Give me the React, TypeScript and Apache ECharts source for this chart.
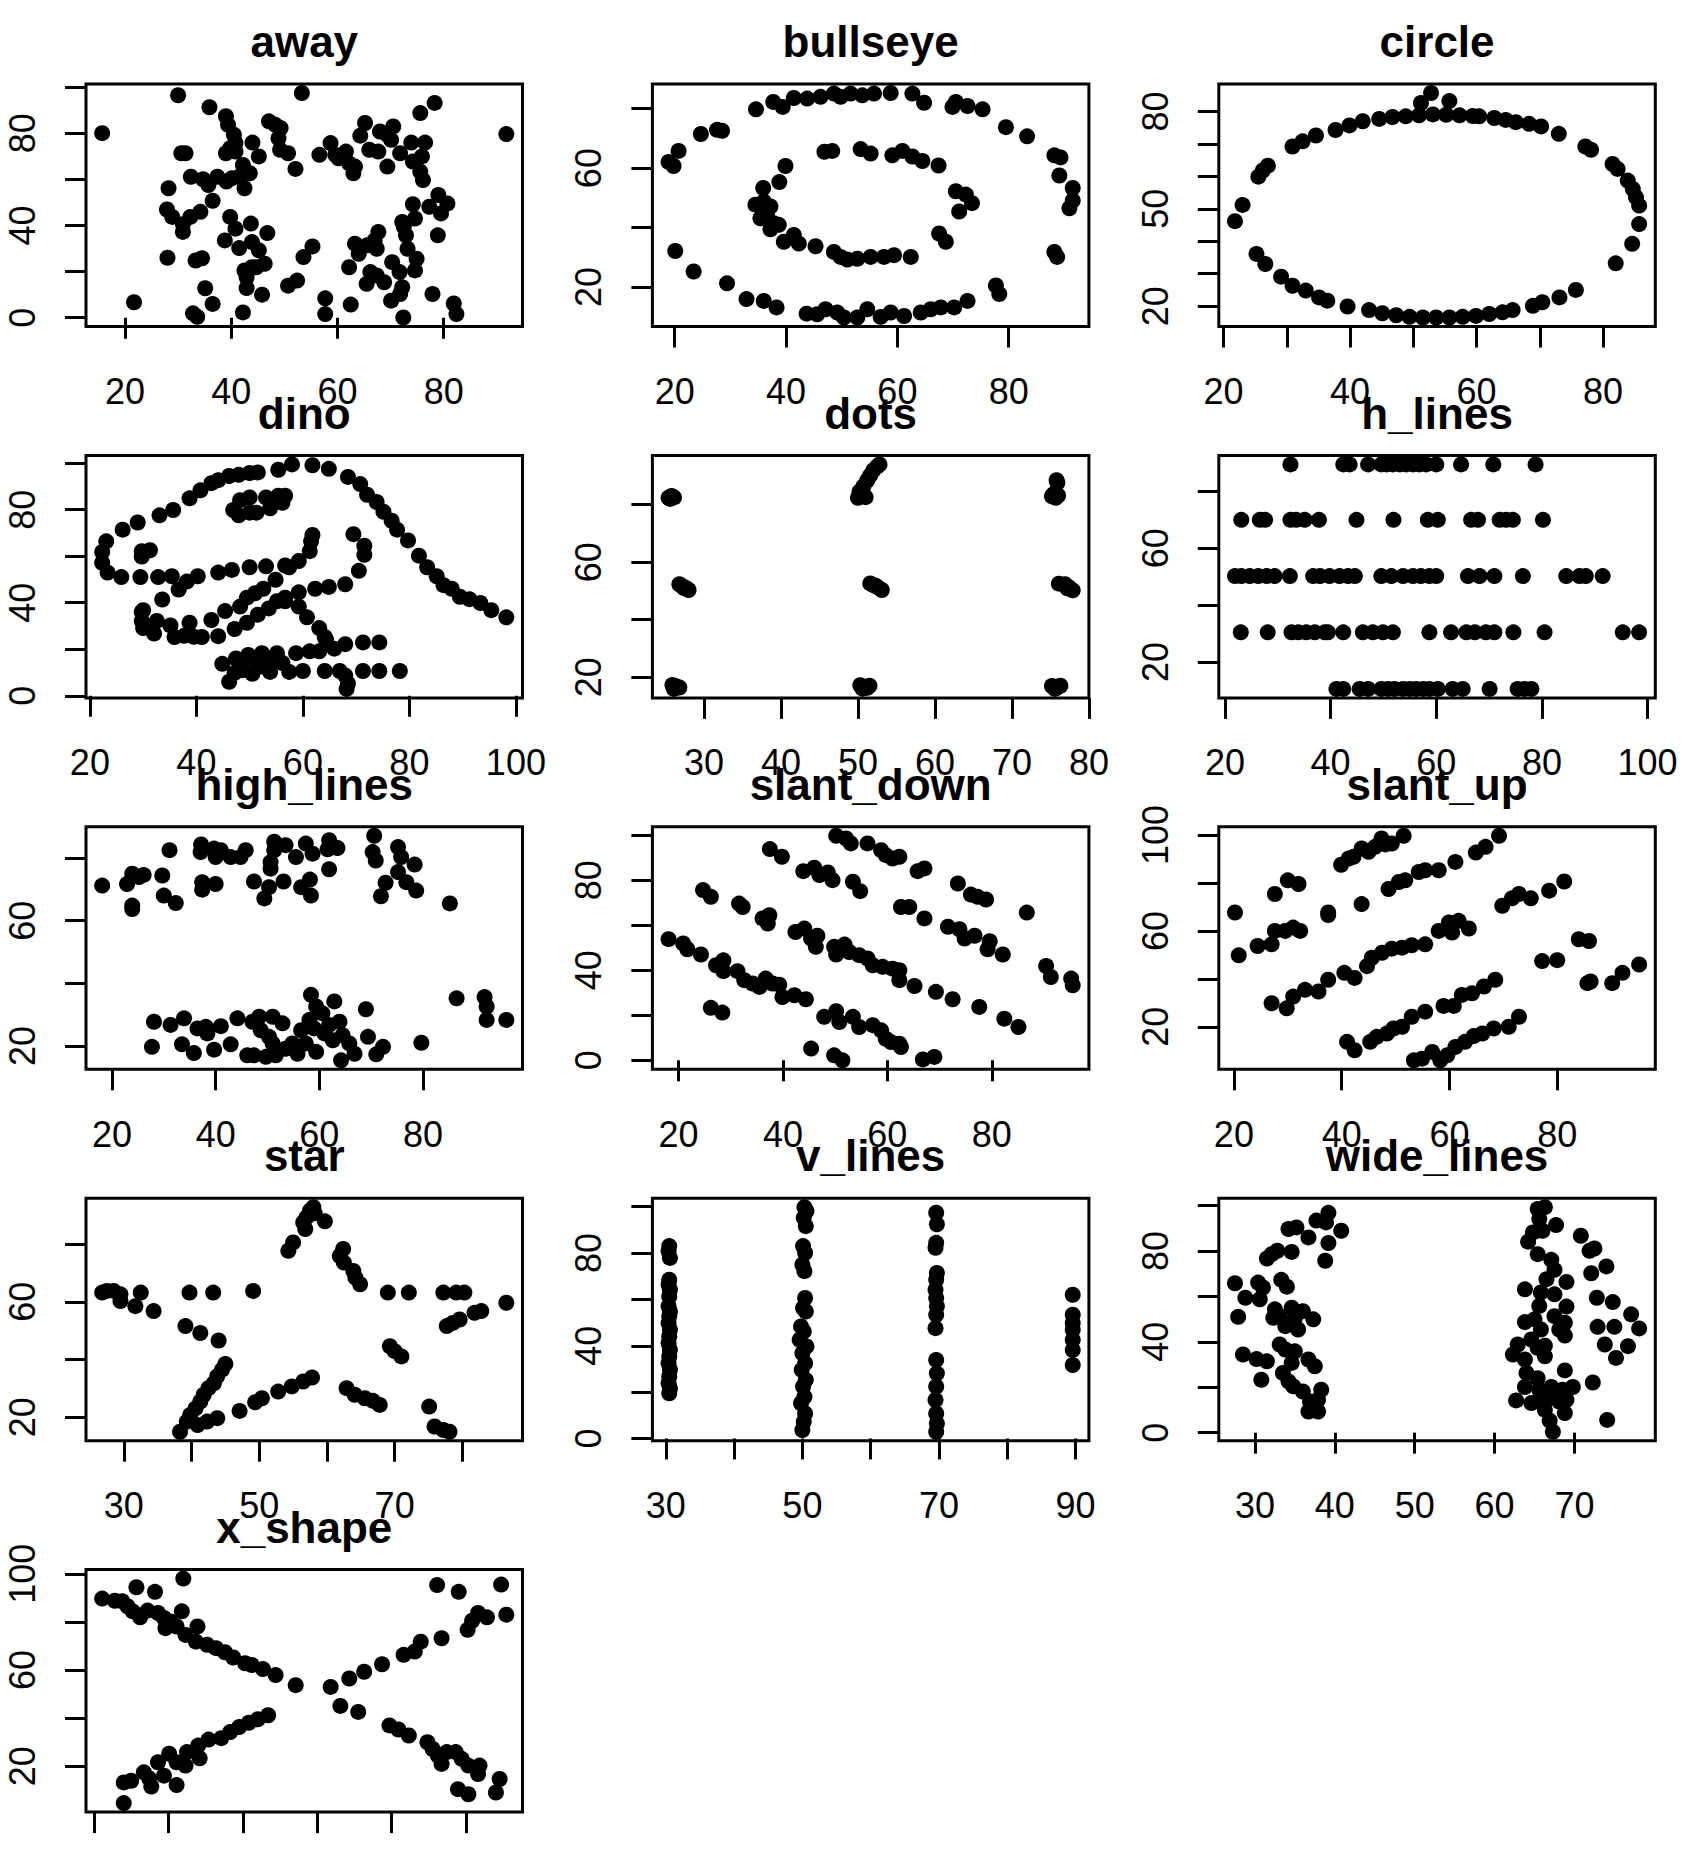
import React, { useEffect, useRef } from 'react';
import * as echarts from 'echarts';

const away = [[15.7,80.0],[30.0,96.4],[53.3,97.4],[78.3,93.1],[91.8,79.6],[35.9,91.2],[39.0,87.3],[39.4,83.6],[47.1,85.1],[48.3,83.6],[49.3,82.2],[40.5,79.3],[40.8,75.7],[39.8,73.5],[39.0,71.3],[40.8,72.0],[44.0,75.9],[45.2,69.9],[48.9,77.8],[49.2,72.8],[50.7,71.3],[52.1,64.5],[31.4,71.3],[30.6,71.3],[32.4,61.1],[34.7,60.0],[35.7,57.5],[37.4,61.1],[39.1,59.0],[40.1,60.4],[41.5,61.1],[42.2,66.2],[43.5,62.6],[42.5,56.1],[28.2,56.1],[27.9,46.9],[28.9,43.7],[30.9,40.5],[30.9,37.2],[32.3,43.7],[34.2,45.9],[36.5,50.7],[39.8,43.7],[40.8,38.6],[43.7,40.8],[46.8,36.7],[38.8,33.5],[41.5,30.2],[43.9,32.8],[45.2,29.2],[28.0,26.0],[33.3,24.8],[34.5,25.8],[42.5,20.5],[43.9,21.9],[46.3,23.4],[44.7,21.9],[42.9,17.6],[42.9,12.9],[35.1,12.8],[45.8,10.0],[36.5,6.0],[21.7,6.7],[32.8,1.9],[33.6,0.4],[42.2,2.3],[50.7,13.9],[52.4,16.1],[53.6,26.3],[55.3,30.9],[56.6,70.6],[58.7,75.7],[59.6,70.6],[60.2,69.1],[61.6,72.0],[62.2,66.9],[63.3,65.5],[63.0,62.6],[65.2,84.4],[64.3,78.9],[66.0,72.8],[67.7,72.0],[68.0,80.7],[69.4,79.3],[70.5,82.9],[70.1,77.1],[69.4,65.5],[71.8,71.3],[73.9,75.9],[75.6,88.7],[76.5,75.9],[74.2,67.7],[75.9,69.9],[75.6,63.3],[76.1,59.7],[74.2,49.2],[74.6,43.0],[72.2,41.5],[72.5,39.4],[77.3,48.1],[79.0,53.2],[80.7,49.5],[79.5,45.2],[78.9,35.7],[67.7,37.2],[67.0,33.5],[67.4,29.9],[63.3,32.1],[64.0,27.7],[62.2,21.9],[65.6,31.4],[73.2,29.9],[74.9,25.6],[74.6,20.5],[70.3,24.1],[71.7,19.8],[66.2,19.8],[65.5,14.7],[67.4,18.3],[68.8,15.4],[72.2,13.2],[71.8,10.3],[70.1,7.4],[77.9,10.3],[72.4,0.1],[81.9,6.2],[82.4,1.6],[57.7,8.4],[57.7,1.6],[62.5,5.7],[72.9,35.7]];

const bullseye = [[18.9,62.1],[19.8,60.7],[20.7,65.8],[20.1,32.1],[23.4,25.2],[24.7,71.5],[27.6,72.9],[28.5,72.6],[29.4,21.2],[32.9,15.9],[36.0,15.3],[38.3,13.1],[34.6,79.8],[37.7,82.3],[39.4,80.6],[41.4,83.6],[43.8,83.4],[46.2,84.0],[48.6,85.1],[49.8,84.0],[51.6,85.1],[53.7,84.5],[55.8,85.1],[58.8,85.3],[62.7,85.1],[64.8,82.0],[69.9,80.6],[70.5,82.3],[72.6,80.9],[75.3,79.8],[79.5,73.8],[83.3,70.7],[88.2,64.3],[89.3,63.6],[89.1,57.5],[91.5,53.3],[91.5,49.1],[90.9,46.5],[88.2,31.8],[88.7,30.1],[77.7,20.5],[78.3,17.6],[72.6,15.3],[70.2,13.1],[67.8,13.1],[66.0,12.5],[64.2,11.4],[61.2,10.2],[58.8,11.4],[57.0,9.9],[54.6,12.5],[52.8,9.7],[50.4,9.7],[49.2,11.4],[47.1,12.5],[45.6,10.8],[43.7,11.0],[39.9,60.7],[38.8,55.3],[35.9,53.3],[34.5,47.7],[36.0,48.8],[37.2,47.1],[35.4,43.1],[36.6,44.8],[37.8,41.4],[38.7,40.9],[37.2,39.4],[39.6,35.2],[41.4,37.5],[42.3,34.6],[45.3,33.7],[46.9,65.5],[48.3,65.8],[53.4,66.4],[55.2,64.9],[59.1,64.3],[60.9,65.8],[62.7,63.9],[64.5,62.4],[67.4,60.9],[70.5,52.2],[72.3,51.1],[73.4,48.2],[71.1,45.4],[67.5,38.0],[68.7,35.2],[48.6,31.8],[49.8,30.1],[51.0,29.2],[52.8,29.5],[55.2,30.1],[57.6,30.1],[59.4,30.7],[62.4,30.1]];

const circle = [[52.8,85.7],[51.2,82.6],[55.7,83.2],[37.7,74.3],[39.9,75.7],[42.0,77.0],[44.6,77.7],[46.7,78.3],[48.8,78.5],[50.9,78.8],[53.1,79.1],[55.2,79.0],[57.3,78.8],[59.4,78.6],[60.4,78.5],[62.8,78.0],[64.6,77.4],[66.2,76.7],[68.3,76.2],[70.2,75.4],[73.0,73.1],[77.2,69.2],[78.1,68.2],[81.5,63.8],[82.3,62.3],[83.9,58.7],[84.7,56.1],[85.2,53.6],[85.7,51.0],[85.7,45.3],[84.6,39.2],[82.0,33.2],[30.9,69.2],[32.5,70.8],[34.6,72.6],[25.5,59.9],[26.2,61.8],[27.0,63.3],[23.0,51.2],[21.8,46.2],[25.2,36.1],[26.6,33.0],[29.1,29.1],[30.9,26.3],[33.0,24.8],[35.1,22.7],[36.4,21.7],[39.6,19.9],[43.0,18.8],[45.1,17.8],[47.3,17.2],[49.4,16.7],[51.5,16.5],[53.6,16.5],[55.7,16.5],[57.8,16.7],[59.9,17.0],[62.0,17.6],[64.1,18.1],[65.7,18.8],[68.9,20.1],[70.4,21.2],[73.1,22.7],[75.7,25.0]];

const dino = [[55.3846,97.1795],[51.5385,96.0256],[46.1538,94.4872],[42.8205,91.4103],[40.7692,88.3333],[38.7179,84.8718],[35.641,79.8718],[33.0769,77.5641],[28.9744,74.4872],[26.1538,71.4103],[23.0769,66.4103],[22.3077,61.7949],[22.3077,57.1795],[23.3333,52.9487],[25.8974,51.0256],[29.4872,51.0256],[32.8205,51.0256],[35.3846,51.4103],[40.2564,51.4103],[44.1026,52.9487],[46.6667,54.1026],[50,55.2564],[53.0769,55.641],[56.6667,56.0256],[59.2308,57.9487],[61.2821,62.1795],[61.5385,66.4103],[61.7949,69.1026],[57.4359,55.2564],[54.8718,49.8718],[52.5641,46.0256],[48.2051,38.3333],[49.4872,42.1795],[51.0256,44.1026],[45.3846,36.4103],[42.8205,32.5641],[38.7179,31.4103],[35.1282,30.2564],[32.5641,32.1795],[30,36.7949],[33.5897,41.4103],[36.6667,45.641],[38.2051,49.1026],[29.7436,36.0256],[29.7436,32.1795],[30,29.1026],[32.0513,26.7949],[35.8974,25.2564],[41.0256,25.2564],[44.1026,25.641],[47.1795,28.718],[49.4872,31.4103],[51.5385,34.8718],[53.5897,37.5641],[55.1282,40.641],[56.6667,42.1795],[59.2308,44.4872],[62.3077,46.0256],[64.8718,46.7949],[67.9487,47.9487],[70.5128,53.718],[71.5385,60.641],[71.5385,64.4872],[69.4872,69.4872],[46.9231,79.8718],[48.2051,84.1026],[50,85.2564],[53.0769,85.2564],[55.3846,86.0256],[56.6667,86.0256],[56.1538,82.9487],[53.8462,80.641],[51.2821,78.718],[50,78.718],[47.9487,77.5641],[29.7436,59.8718],[29.7436,62.1795],[31.2821,62.5641],[57.9487,99.4872],[61.7949,99.1026],[64.8718,97.5641],[68.4615,94.1026],[70.7692,91.0256],[72.0513,86.4103],[73.8462,83.3333],[75.1282,79.1026],[76.6667,75.2564],[77.6923,71.4103],[79.7436,66.7949],[81.7949,60.2564],[83.3333,55.2564],[85.1282,51.4103],[86.4103,47.5641],[87.9487,46.0256],[89.4872,42.5641],[93.3333,39.8718],[95.3846,36.7949],[98.2051,33.718],[56.6667,40.641],[59.2308,38.3333],[60.7692,33.718],[63.0769,29.1026],[64.1026,25.2564],[64.359,24.1026],[74.359,22.9487],[71.2821,22.9487],[67.9487,22.1795],[65.8974,20.2564],[63.0769,19.1026],[61.2821,19.1026],[58.7179,18.3333],[55.1282,18.3333],[52.3077,18.3333],[49.7436,17.5641],[47.4359,16.0256],[44.8718,13.718],[48.7179,14.8718],[51.2821,14.8718],[54.1026,14.8718],[56.1538,14.1026],[52.0513,12.5641],[48.7179,11.0256],[47.1795,9.8718],[46.1538,6.0256],[50.5128,9.4872],[53.8462,10.2564],[57.4359,10.2564],[60,10.641],[64.1026,10.641],[66.9231,10.641],[71.2821,10.641],[74.359,10.641],[78.2051,10.641],[67.9487,8.718],[68.4615,5.2564],[68.2051,2.9487],[37.6923,25.7692],[39.4872,25.3846],[91.2821,41.5385],[50,95.7692],[47.9487,95],[44.1026,92.6923]];

const dots = [[25.4,82.4],[25.8,83.0],[26.1,82.5],[25.6,82.0],[26.8,52.3],[27.2,51.6],[27.7,50.9],[28.0,50.3],[27.4,51.0],[25.9,17.3],[26.4,16.8],[26.8,16.4],[26.1,15.9],[50.0,82.4],[50.4,82.9],[51.0,82.6],[50.2,84.5],[50.7,86.3],[51.2,88.4],[51.6,90.2],[52.0,92.0],[52.5,93.3],[52.8,94.0],[51.6,52.6],[52.0,52.0],[52.6,51.2],[53.1,50.3],[52.3,51.8],[50.3,17.2],[50.8,16.6],[51.5,17.0],[50.6,16.0],[51.2,16.3],[75.8,88.5],[75.9,87.6],[75.2,82.9],[75.7,82.4],[76.0,83.2],[75.4,83.6],[76.1,52.5],[76.9,52.3],[77.4,51.3],[77.9,50.2],[77.2,50.9],[75.2,16.9],[75.8,16.4],[76.3,17.0],[75.6,15.9]];

const hLines = [[32.4,89.5],[42.4,89.5],[43.6,89.5],[47.1,89.5],[49.6,89.5],[50.6,89.5],[51.8,89.5],[53.1,89.5],[54.3,89.5],[55.6,89.5],[56.8,89.5],[58.1,89.5],[60.0,89.5],[64.7,89.5],[70.8,89.5],[78.8,89.5],[23.1,70.0],[26.6,70.0],[27.6,70.0],[32.4,70.0],[33.5,70.0],[35.1,70.0],[37.8,70.0],[44.9,70.0],[51.9,70.0],[58.4,70.0],[60.3,70.0],[66.6,70.0],[67.9,70.0],[72.0,70.0],[73.2,70.0],[74.5,70.0],[80.2,70.0],[21.9,50.2],[23.1,50.2],[24.7,50.2],[26.3,50.2],[27.9,50.2],[29.4,50.2],[32.3,50.2],[36.7,50.2],[38.0,50.2],[39.8,50.2],[41.7,50.2],[43.3,50.2],[44.6,50.2],[49.6,50.2],[51.5,50.2],[53.7,50.2],[55.6,50.2],[57.1,50.2],[58.7,50.2],[60.0,50.2],[66.0,50.2],[68.2,50.2],[71.0,50.2],[76.4,50.2],[84.6,50.2],[87.1,50.2],[88.3,50.2],[91.5,50.2],[23.0,30.4],[28.1,30.4],[32.6,30.4],[33.9,30.4],[35.4,30.4],[37.0,30.4],[38.9,30.4],[39.5,30.4],[42.4,30.4],[46.1,30.4],[48.0,30.4],[49.9,30.4],[51.8,30.4],[58.7,30.4],[62.8,30.4],[65.7,30.4],[67.3,30.4],[69.4,30.4],[71.0,30.4],[74.6,30.4],[80.5,30.4],[95.3,30.4],[98.4,30.4],[41.1,10.5],[42.4,10.5],[45.5,10.5],[47.1,10.5],[49.6,10.5],[50.9,10.5],[52.1,10.5],[53.7,10.5],[55.0,10.5],[56.2,10.5],[57.5,10.5],[58.7,10.5],[60.3,10.5],[63.1,10.5],[65.0,10.5],[70.1,10.5],[75.4,10.5],[76.7,10.5],[78.0,10.5]];

const highLines = [[18.1,71.2],[22.9,71.7],[23.9,75.0],[25.2,73.9],[26.1,74.6],[23.9,63.7],[23.9,64.8],[29.7,74.4],[30.0,68.0],[32.3,65.6],[31.1,82.5],[37.2,84.3],[37.1,81.9],[39.7,83.0],[41.0,82.5],[40.0,80.3],[42.9,80.3],[44.8,80.3],[45.8,82.5],[37.4,72.3],[37.4,69.9],[40.0,71.7],[47.4,72.5],[49.4,67.1],[50.3,70.7],[51.3,85.2],[51.3,82.5],[53.5,84.1],[50.6,78.7],[50.6,76.6],[53.1,72.5],[55.5,80.3],[57.4,84.6],[58.7,81.4],[56.5,70.7],[58.2,73.1],[58.4,68.0],[61.9,85.7],[63.5,83.2],[61.6,82.8],[61.9,76.4],[70.6,87.1],[70.3,81.9],[70.9,79.2],[72.8,72.1],[71.9,67.8],[75.2,83.5],[75.8,80.3],[75.2,75.5],[76.8,72.3],[78.4,77.9],[78.7,69.6],[85.2,65.5],[28.1,27.7],[27.7,19.7],[31.3,26.7],[33.9,28.8],[33.5,20.5],[35.8,17.7],[36.5,25.6],[38.1,26.1],[38.4,24.0],[39.7,18.8],[41.0,26.3],[42.9,20.5],[44.2,28.8],[46.1,17.0],[47.4,17.0],[47.1,27.7],[48.4,29.3],[48.7,25.0],[49.7,16.5],[51.0,29.3],[50.3,22.9],[51.0,20.8],[51.6,17.0],[52.9,27.2],[53.5,19.1],[54.8,20.8],[55.8,17.5],[56.5,25.0],[57.4,20.8],[58.1,28.3],[58.4,36.3],[59.4,32.6],[59.0,25.6],[59.4,18.1],[60.6,30.4],[61.0,24.0],[62.9,34.2],[61.9,26.7],[62.6,21.8],[63.9,27.7],[64.5,23.4],[64.2,15.4],[65.8,20.8],[66.8,17.5],[69.0,31.7],[69.4,22.9],[71.0,17.3],[72.3,19.7],[79.7,21.0],[86.5,35.2],[91.9,35.6],[92.3,32.6],[92.3,28.3],[96.1,28.3]];

const slantDown = [[50.2,99.7],[52.1,98.5],[53.0,96.3],[56.2,96.3],[58.8,93.3],[59.7,91.1],[61.0,89.6],[62.3,90.4],[65.8,84.0],[67.1,85.2],[73.5,78.5],[76.0,73.6],[77.3,72.6],[78.9,71.4],[86.7,65.6],[37.5,93.8],[39.8,90.4],[43.9,84.0],[46.0,85.5],[47.0,82.2],[48.6,83.4],[49.5,80.0],[53.4,79.3],[54.8,75.1],[62.6,68.1],[64.2,68.1],[67.1,63.0],[71.6,59.3],[73.8,58.2],[74.8,54.1],[76.7,55.3],[79.6,52.9],[79.2,49.3],[82.1,47.0],[90.4,41.9],[91.3,37.0],[95.2,36.3],[95.5,33.3],[24.7,75.6],[26.2,72.6],[31.6,69.6],[32.3,68.1],[36.1,63.0],[37.4,64.4],[37.1,60.7],[42.4,57.0],[44.1,58.5],[45.4,54.1],[46.6,55.3],[46.3,50.4],[49.8,50.4],[51.8,51.4],[50.2,47.0],[52.7,48.1],[54.6,46.7],[56.2,45.2],[57.2,42.2],[59.1,41.5],[61.0,40.7],[62.3,40.0],[62.3,35.6],[65.2,33.0],[69.3,30.4],[72.5,27.1],[77.6,23.7],[82.4,18.5],[85.1,14.8],[18.1,53.8],[20.9,51.9],[21.7,49.3],[24.3,47.0],[27.2,42.2],[28.6,44.4],[28.6,39.6],[31.3,39.6],[32.6,35.6],[34.2,34.1],[35.5,32.6],[36.7,36.3],[38.0,34.1],[39.3,33.6],[39.9,28.1],[42.2,28.9],[44.4,27.1],[26.2,23.3],[28.4,21.2],[47.9,19.3],[50.2,21.8],[50.8,17.0],[53.4,19.3],[54.6,14.8],[57.2,15.6],[58.8,13.3],[59.7,9.6],[60.7,8.1],[62.3,7.4],[62.6,5.9],[45.4,5.2],[49.8,2.2],[51.4,0.0],[66.8,0.4],[69.0,1.5]];

const slantUp = [[39.9,87.6],[41.3,90.2],[42.2,90.9],[43.7,94.4],[45.0,93.0],[46.2,95.1],[47.4,98.6],[48.1,96.1],[49.3,96.5],[51.5,99.7],[20.2,67.7],[20.9,49.8],[24.4,53.7],[27.0,54.4],[27.6,60.0],[27.6,75.4],[29.5,60.0],[30.0,81.1],[32.0,79.6],[31.0,61.4],[32.3,60.0],[37.5,67.7],[37.5,66.6],[43.7,71.2],[48.7,77.5],[50.6,80.4],[51.8,81.1],[54.3,84.6],[55.5,85.3],[58.0,85.3],[61.1,88.8],[64.9,92.7],[66.7,95.1],[69.2,99.7],[27.0,29.8],[29.8,27.7],[31.0,32.6],[33.2,35.4],[35.7,34.7],[37.5,39.6],[40.5,42.5],[42.4,40.4],[44.7,45.3],[45.6,48.8],[47.5,50.9],[49.3,52.6],[51.2,53.0],[53.0,54.0],[55.5,54.4],[58.0,60.0],[59.9,63.5],[60.5,59.3],[61.7,64.2],[63.6,61.0],[69.8,70.5],[71.6,73.6],[72.9,75.4],[75.1,73.6],[78.5,76.8],[81.3,80.6],[41.0,13.7],[42.4,10.2],[45.3,13.7],[46.5,15.8],[48.4,17.2],[49.6,19.3],[51.2,20.0],[53.0,24.2],[55.5,26.3],[58.9,28.7],[60.8,28.7],[62.3,33.3],[64.2,34.0],[66.4,36.8],[68.5,39.6],[77.2,47.4],[80.0,47.8],[84.0,56.5],[85.9,55.8],[85.6,38.2],[86.2,38.9],[90.2,38.2],[92.1,42.5],[95.2,46.0],[53.4,6.0],[54.9,6.7],[56.8,9.5],[58.3,6.0],[59.6,8.1],[61.1,11.6],[62.9,13.7],[64.5,16.1],[66.1,17.2],[68.2,19.3],[71.0,20.0],[72.9,24.2]];

const star = [[58.0,92.8],[57.5,91.6],[58.2,90.7],[57.0,89.3],[56.5,87.5],[59.7,87.9],[56.8,85.2],[55.0,80.6],[54.3,77.7],[62.4,78.3],[61.9,75.9],[62.5,73.6],[63.9,70.7],[64.2,68.4],[64.9,66.1],[26.8,63.2],[27.5,63.8],[28.5,63.8],[29.5,62.6],[29.5,60.3],[31.7,58.5],[32.5,63.2],[34.4,56.8],[39.7,63.2],[43.2,63.2],[49.1,63.8],[39.1,51.6],[41.3,49.2],[44.0,46.6],[69.0,63.2],[72.1,63.2],[77.2,63.2],[79.1,63.2],[80.3,63.2],[86.5,59.7],[81.8,56.2],[82.8,56.8],[79.6,53.9],[78.6,52.7],[77.7,51.6],[69.3,44.6],[70.0,42.9],[71.0,41.1],[45.0,38.5],[44.5,36.5],[43.8,34.2],[43.3,31.8],[42.5,30.1],[41.8,27.8],[41.3,25.5],[40.6,23.1],[39.8,20.8],[39.3,18.5],[38.3,15.0],[40.9,17.3],[42.3,18.5],[43.8,19.7],[47.1,22.2],[49.4,25.2],[50.4,26.6],[52.8,28.9],[54.8,30.7],[56.5,32.4],[57.8,33.8],[62.9,30.1],[64.1,27.8],[65.6,26.6],[66.8,25.7],[67.8,24.3],[75.1,23.7],[75.9,16.8],[77.2,15.6],[78.1,15.0]];

const vLines = [[30.5,83.0],[30.4,80.8],[30.6,77.9],[30.5,68.5],[30.4,66.4],[30.6,64.2],[30.5,61.3],[30.4,57.0],[30.6,54.8],[30.5,52.7],[30.4,49.8],[30.6,46.9],[30.5,44.0],[30.4,41.1],[30.6,38.2],[30.5,35.4],[30.4,32.5],[30.6,29.6],[30.5,26.7],[30.4,23.8],[30.6,21.6],[30.5,19.5],[50.3,99.8],[50.6,98.1],[50.2,95.2],[50.5,91.6],[50.1,83.0],[50.4,80.1],[50.0,75.0],[50.3,72.2],[50.4,60.6],[50.1,56.3],[50.5,54.8],[49.8,48.3],[50.2,46.2],[49.6,42.6],[50.6,39.7],[50.0,36.8],[50.4,32.5],[49.9,29.6],[50.5,25.3],[50.1,22.4],[50.3,18.0],[49.8,15.2],[50.4,10.8],[50.2,7.2],[50.0,3.6],[69.6,97.4],[69.7,92.4],[69.6,84.4],[69.5,82.3],[69.7,71.4],[69.6,68.5],[69.5,64.2],[69.6,60.6],[69.7,57.0],[69.6,53.4],[69.5,47.6],[69.6,33.9],[69.7,28.1],[69.6,22.4],[69.5,16.6],[69.6,10.8],[69.7,6.5],[69.6,2.9],[89.6,62.0],[89.6,53.4],[89.6,49.8],[89.6,46.9],[89.6,42.6],[89.6,38.2],[89.6,31.7]];

const wideLines = [[27.5,65.8],[27.9,51.0],[28.8,59.4],[28.5,34.4],[30.4,66.1],[31.0,63.9],[30.6,58.7],[30.2,32.4],[31.5,31.4],[30.8,23.3],[31.5,76.7],[32.1,78.6],[32.8,80.1],[33.3,67.3],[34.0,64.3],[34.6,79.6],[32.5,54.3],[32.3,50.6],[33.1,51.3],[33.8,46.9],[34.6,55.0],[35.0,50.6],[36.0,53.5],[35.4,45.4],[37.3,49.9],[33.1,38.8],[33.8,36.6],[35.0,35.8],[34.6,30.7],[33.5,26.3],[34.2,22.6],[34.8,20.4],[36.7,32.2],[37.5,29.2],[36.0,18.1],[36.9,13.7],[36.7,9.3],[37.9,9.3],[38.3,18.9],[37.9,14.5],[34.2,89.7],[35.2,90.4],[36.7,86.0],[37.7,93.4],[39.2,96.8],[38.9,92.6],[40.8,88.9],[39.2,83.5],[38.8,75.7],[65.4,98.5],[66.3,99.3],[65.6,94.1],[67.7,91.4],[66.0,88.9],[64.8,88.2],[64.2,84.1],[65.4,78.6],[67.1,76.1],[67.5,71.7],[66.5,67.6],[69.0,66.4],[63.8,63.1],[65.8,61.7],[67.5,60.9],[65.6,55.8],[69.0,55.5],[63.8,48.7],[65.0,49.9],[67.5,51.3],[68.8,48.4],[65.8,45.4],[68.1,45.4],[68.8,42.8],[62.9,38.8],[62.3,34.4],[64.6,41.0],[66.3,38.3],[63.8,32.2],[65.4,37.3],[66.3,33.6],[64.0,26.3],[65.4,24.0],[68.8,27.4],[63.8,20.1],[65.6,18.9],[67.1,20.1],[68.5,18.9],[69.8,20.1],[62.7,14.2],[64.6,13.0],[65.6,14.5],[66.9,15.2],[68.1,13.7],[69.0,14.5],[66.3,10.0],[68.8,8.6],[66.9,5.3],[67.3,0.4],[70.8,86.7],[71.9,80.1],[72.5,81.1],[74.0,73.2],[72.1,70.2],[72.8,59.4],[74.8,57.5],[72.9,46.6],[75.0,46.6],[77.1,52.1],[78.1,45.9],[73.8,38.8],[75.2,32.9],[76.7,38.1],[72.3,22.1],[74.1,5.6]];

const xShape = [[31.1,89.7],[32.8,88.8],[33.8,88.6],[34.5,86.5],[35.2,84.4],[36.2,81.9],[37.2,84.7],[38.6,83.7],[39.4,81.6],[39.6,77.4],[40.3,80.2],[41.1,78.1],[41.8,84.4],[42.3,74.6],[43.9,78.1],[43.7,71.8],[45.2,70.5],[46.4,69.1],[47.6,67.4],[48.7,65.2],[50.3,62.8],[51.2,62.1],[52.7,60.4],[54.4,57.9],[57.1,53.7],[35.7,94.4],[38.2,92.5],[42.0,98.0],[34.0,4.7],[34.0,13.3],[35.0,14.0],[36.7,17.5],[37.7,11.6],[37.4,15.0],[38.6,21.7],[39.4,16.1],[40.1,25.2],[41.1,12.2],[41.1,21.7],[42.3,20.3],[42.5,25.9],[44.2,23.3],[44.0,28.6],[45.4,31.1],[47.1,31.7],[48.3,34.2],[49.5,36.3],[50.8,38.1],[52.0,39.5],[53.4,41.2],[61.8,53.0],[64.3,56.5],[66.3,59.3],[68.7,62.4],[71.6,66.3],[73.1,67.7],[73.9,71.8],[76.7,73.2],[80.2,76.7],[80.8,80.5],[81.6,83.7],[82.8,81.9],[85.4,83.0],[76.1,95.3],[79.0,92.5],[84.7,95.5],[63.1,45.1],[65.5,42.6],[69.7,37.0],[70.9,35.3],[72.3,32.8],[74.8,30.0],[75.5,27.2],[76.2,24.5],[76.7,21.0],[77.4,25.9],[78.6,25.9],[79.4,23.1],[80.3,20.3],[81.8,20.3],[81.6,16.8],[78.9,10.5],[80.3,8.4],[84.0,9.1],[84.5,14.7]];

const panelNames = ['away', 'bullseye', 'circle', 'dino', 'dots', 'h_lines', 'high_lines', 'slant_down', 'slant_up', 'star', 'v_lines', 'wide_lines', 'x_shape'];
const panelData = [away, bullseye, circle, dino, dots, hLines, highLines, slantDown, slantUp, star, vLines, wideLines, xShape];

const xTickValues = [
  [20, 40, 60, 80], [20, 40, 60, 80], [20, 30, 40, 50, 60, 70, 80],
  [20, 40, 60, 80, 100], [30, 40, 50, 60, 70, 80], [20, 40, 60, 80, 100],
  [20, 40, 60, 80], [20, 40, 60, 80], [20, 40, 60, 80],
  [30, 40, 50, 60, 70, 80], [30, 40, 50, 60, 70, 80, 90], [30, 40, 50, 60, 70],
  [30, 40, 50, 60, 70, 80],
];
// the bottom row's tick labels fall below the page edge in the reference
const xLabelValues = [
  [20, 40, 60, 80], [20, 40, 60, 80], [20, 40, 60, 80],
  [20, 40, 60, 80, 100], [30, 40, 50, 60, 70, 80], [20, 40, 60, 80, 100],
  [20, 40, 60, 80], [20, 40, 60, 80], [20, 40, 60, 80],
  [30, 50, 70], [30, 50, 70, 90], [30, 40, 50, 60, 70],
  [],
];
const yTickValues = [
  [0, 20, 40, 60, 80, 100], [20, 40, 60, 80], [20, 30, 40, 50, 60, 70, 80],
  [0, 20, 40, 60, 80, 100], [20, 40, 60, 80], [20, 40, 60, 80],
  [20, 40, 60, 80], [0, 20, 40, 60, 80, 100], [20, 40, 60, 80, 100],
  [20, 40, 60, 80], [0, 20, 40, 60, 80, 100], [0, 20, 40, 60, 80, 100],
  [20, 40, 60, 80, 100],
];
const yLabelValues = [
  [0, 40, 80], [20, 60], [20, 50, 80],
  [0, 40, 80], [20, 60], [20, 60],
  [20, 60], [0, 40, 80], [20, 60, 100],
  [20, 60], [0, 40, 80], [0, 40, 80],
  [20, 60, 100],
];

function extent(pts: number[][], k: number): [number, number] {
  const v = pts.map((p) => p[k]);
  const lo = Math.min(...v);
  const hi = Math.max(...v);
  const pad = (hi - lo) * 0.04;
  return [lo - pad, hi + pad];
}

const FONT = '"Liberation Sans", Arial, Helvetica, sans-serif';

export default function App() {
  const ref = useRef<HTMLDivElement>(null);
  useEffect(() => {
    const chart = echarts.init(ref.current as HTMLDivElement, null, { renderer: 'svg' });
    const grids: any[] = [];
    const xAxes: any[] = [];
    const yAxes: any[] = [];
    const series: any[] = [];
    const graphics: any[] = [];
    panelData.forEach((pts, i) => {
      const col = i % 3;
      const row = Math.floor(i / 3);
      const left = 86 + col * 566.4;
      const top = 84 + row * 371.4;
      const width = 436.5;
      const height = 242.5;
      grids.push({ left, top, width, height, show: true, borderColor: '#000', borderWidth: 3, backgroundColor: 'rgba(0,0,0,0)', containLabel: false });
      const [x0, x1] = extent(pts, 0);
      const [y0, y1] = extent(pts, 1);
      xAxes.push({
        gridIndex: i, type: 'value', min: x0, max: x1,
        axisLine: { show: false }, splitLine: { show: false },
        axisTick: { show: true, length: 21, lineStyle: { color: '#000', width: 3 }, customValues: xTickValues[i] },
        axisLabel: { show: xLabelValues[i].length > 0, customValues: xLabelValues[i], margin: 65, fontSize: 36, color: '#000', fontFamily: FONT, align: 'center', verticalAlign: 'middle', formatter: (v: number) => String(v) },
      });
      yAxes.push({
        gridIndex: i, type: 'value', min: y0, max: y1,
        axisLine: { show: false }, splitLine: { show: false },
        axisTick: { show: true, length: 21, lineStyle: { color: '#000', width: 3 }, customValues: yTickValues[i] },
        axisLabel: { show: true, customValues: yLabelValues[i], margin: 63.5, rotate: 90, fontSize: 36, color: '#000', fontFamily: FONT, align: 'center', verticalAlign: 'middle', formatter: (v: number) => String(v) },
      });
      series.push({
        type: 'scatter', xAxisIndex: i, yAxisIndex: i, data: pts, symbol: 'circle', symbolSize: 16,
        itemStyle: { color: '#000', opacity: 1 }, silent: true, clip: false,
      });
      graphics.push({
        type: 'text', x: left + width / 2, y: top - 42.4, silent: true,
        style: { text: panelNames[i], fill: '#000', fontSize: 44, fontWeight: 'bold', fontFamily: FONT, textAlign: 'center', textVerticalAlign: 'middle', align: 'center', verticalAlign: 'middle' },
      });
    });
    chart.setOption({ animation: false, backgroundColor: '#fff', grid: grids, xAxis: xAxes, yAxis: yAxes, series, graphic: graphics });
    return () => chart.dispose();
  }, []);
  return <div ref={ref} style={{ position: 'absolute', left: 0, top: 0, width: 1697, height: 1857, background: '#fff' }} />;
}
